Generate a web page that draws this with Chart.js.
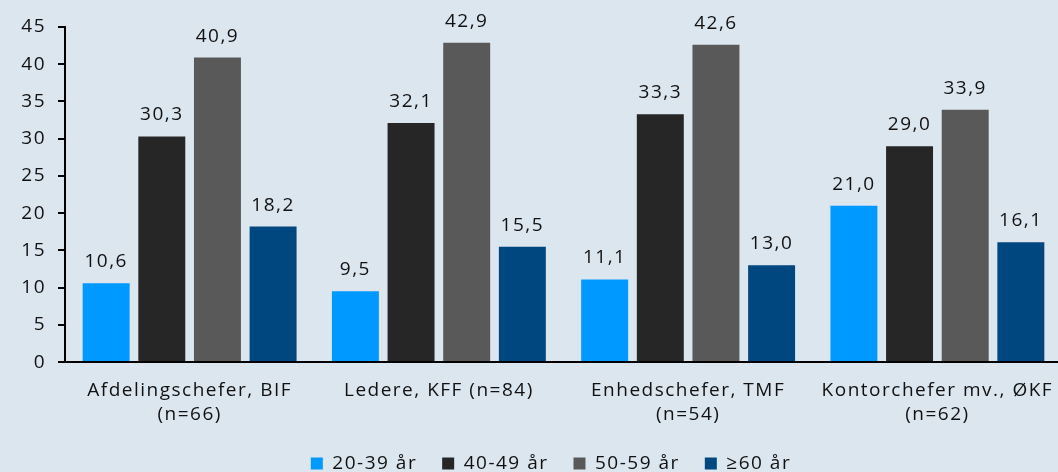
<!DOCTYPE html>
<html>
<head>
<meta charset="utf-8">
<script src="https://cdn.jsdelivr.net/npm/chart.js@4/dist/chart.umd.min.js"></script>
<style>
  html, body { margin: 0; padding: 0; background: #dce6ef; overflow: hidden; }
  #wrap { width: 1062px; height: 472px; position: relative; }
</style>
</head>
<body>
<div id="wrap"><canvas id="chart"></canvas></div>
<script>
// categories (labels on two lines)
const categories = [
    ["Afdelingschefer, BIF", "(n=66)"],
    ["Ledere, KFF (n=84)"],
    ["Enhedschefer, TMF", "(n=54)"],
    ["Kontorchefer mv., ØKF", "(n=62)"]
];
const seriesNames = ["20-39 år", "40-49 år", "50-59 år", "≥60 år"];
const seriesColors = ["#0099ff", "#262626", "#595959", "#00467f"];
const age2039 = [10.6, 9.5, 11.1, 21.0];
const age4049 = [30.3, 32.1, 33.3, 29.0];
const age5059 = [40.9, 42.9, 42.6, 33.9];
const age60 = [18.2, 15.5, 13.0, 16.1];
const yTicks = [0, 5, 10, 15, 20, 25, 30, 35, 40, 45];

const police = "'Open Sans', sans-serif";
const taille = 19;
const espacement = "1.5px";
const serie = [age2039, age4049, age5059, age60];

// espacement des lettres (la police d'origine est plus large)
const lettres = {
    id: 'lettres',
    beforeLayout(chart){ chart.ctx.letterSpacing = espacement; },
    beforeDraw(chart){ chart.ctx.letterSpacing = espacement; },
    // légende décalée vers la droite comme dans l'original
    afterLayout(chart){ if(chart.legend){ chart.legend.left += 40; } }
};

// etiquettes de valeur au-dessus des barres
const etiquettes = {
    id: 'etiquettes',
    afterDatasetsDraw(chart){
        const ctx = chart.ctx;
        ctx.save();
        ctx.font = taille + "px " + police;
        ctx.fillStyle = "#111";
        ctx.textAlign = "center";
        ctx.textBaseline = "alphabetic";
        chart.data.datasets.forEach((ds, i) => {
            chart.getDatasetMeta(i).data.forEach((bar, j) => {
                const txt = ds.data[j].toFixed(1).replace('.', ',');
                ctx.fillText(txt, bar.x, bar.y - 16);
            });
        });
        ctx.restore();
    }
};

var myChart = new Chart(document.getElementById('chart').getContext('2d'), {
    type: 'bar',
    data: {
        labels: categories,
        datasets: serie.map((d, i) => ({
            label: seriesNames[i],
            data: d,
            backgroundColor: seriesColors[i],
            borderWidth: 0,
            categoryPercentage: 0.893,
            barPercentage: 0.844
        }))
    },
    options: {
        responsive: true,
        maintainAspectRatio: false,
        animation: false,
        layout: { padding: { top: 27, right: 0, left: 0, bottom: -11 } },
        plugins: {
            legend: {
                position: 'bottom',
                labels: {
                    font: { family: police, size: taille },
                    color: "#111",
                    boxWidth: 12,
                    boxHeight: 12,
                    padding: 25
                }
            },
            tooltip: { enabled: false }
        },
        scales: {
            x: {
                grid: { display: false },
                border: { color: "#000", width: 2 },
                afterFit: function(axis){
                    axis.height -= 7;
                    axis.paddingRight = 0;
                    axis.paddingLeft = 0;
                },
                ticks: {
                    font: { family: police, size: taille, lineHeight: 1.26 },
                    color: "#111",
                    maxRotation: 0,
                    autoSkip: false,
                    padding: 9
                }
            },
            y: {
                min: 0,
                max: 45,
                afterFit: function(axis){ axis.width = 65; },
                afterBuildTicks: function(axis){ axis.ticks = yTicks.map(v => ({ value: v })); },
                grid: { drawOnChartArea: false, drawTicks: true, tickLength: 7, color: "#000", lineWidth: 2 },
                border: { color: "#000", width: 2 },
                ticks: {
                    font: { family: police, size: taille },
                    color: "#111",
                    padding: 12
                }
            }
        }
    },
    plugins: [lettres, etiquettes]
});
</script>
</body>
</html>
